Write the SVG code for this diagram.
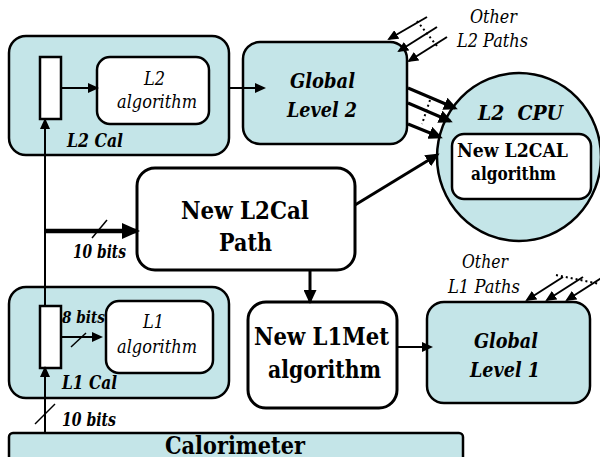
<svg xmlns="http://www.w3.org/2000/svg" width="600" height="457" viewBox="0 0 600 457">
  <defs>
    <style>
      .blk { fill: #c4e5e8; stroke: #000; stroke-width: 2.5; }
      .wht { fill: #fff; stroke: #000; stroke-width: 2.5; }
      .whtb { fill: #fff; stroke: #000; stroke-width: 3; }
      text { font-family: "DejaVu Serif", serif; fill: #000; }
      .it { font-style: italic; font-size: 18px; }
      .bi { font-style: italic; font-weight: bold; font-size: 18px; }
      .bi21 { font-style: italic; font-weight: bold; font-size: 21px; }
      .b24 { font-weight: bold; font-size: 23.5px; }
      .b18 { font-weight: bold; font-size: 18px; }
      .mid { text-anchor: middle; }
      .ln { fill: none; stroke: #000; stroke-width: 2; }
      .lnb { fill: none; stroke: #000; stroke-width: 3; }
      .lnw { fill: none; stroke: #000; stroke-width: 4.5; }
      .tick { fill: none; stroke: #000; stroke-width: 1.5; }
      .dot { fill: none; stroke: #000; stroke-width: 2; stroke-dasharray: 2 3; }
    </style>
    <marker id="ah" markerUnits="userSpaceOnUse" markerWidth="11" markerHeight="10" refX="9" refY="5" orient="auto">
      <path d="M0,0 L11,5 L0,10 z" fill="#000"/>
    </marker>
    <marker id="ahb" markerUnits="userSpaceOnUse" markerWidth="14" markerHeight="13" refX="11" refY="6.5" orient="auto">
      <path d="M0,0 L14,6.5 L0,13 z" fill="#000"/>
    </marker>
    <marker id="ahw" markerUnits="userSpaceOnUse" markerWidth="18" markerHeight="16" refX="15" refY="8" orient="auto">
      <path d="M0,0 L18,8 L0,16 z" fill="#000"/>
    </marker>
  </defs>

  <!-- L2 calorimeter crate -->
  <g id="l2cal">
    <rect class="blk" x="9" y="36" width="220" height="119" rx="17"/>
    <text class="bi" x="67" y="147" textLength="56" lengthAdjust="spacingAndGlyphs">L2 Cal</text>
  </g>
  <g id="l2reg">
    <rect class="wht" x="40" y="57" width="21" height="62"/>
  </g>
  <g id="l2algo">
    <rect class="wht" x="97" y="57" width="112" height="67" rx="13"/>
    <text class="it mid" x="154.5" y="85" textLength="21" lengthAdjust="spacingAndGlyphs">L2</text>
    <text class="it mid" x="157" y="108" textLength="80" lengthAdjust="spacingAndGlyphs">algorithm</text>
  </g>

  <!-- Global Level 2 -->
  <g id="global2">
    <rect class="blk" x="243" y="42" width="164" height="102" rx="17"/>
    <text class="bi21 mid" x="322.5" y="88" textLength="65" lengthAdjust="spacingAndGlyphs">Global</text>
    <text class="bi21 mid" x="322" y="117" textLength="70" lengthAdjust="spacingAndGlyphs">Level 2</text>
  </g>
  <g id="other2">
    <text class="it mid" x="493.5" y="23" textLength="47" lengthAdjust="spacingAndGlyphs">Other</text>
    <text class="it mid" x="492.5" y="47" textLength="71" lengthAdjust="spacingAndGlyphs">L2 Paths</text>
  </g>

  <!-- L2 CPU -->
  <g id="l2cpu">
    <ellipse class="blk" cx="519" cy="157" rx="82" ry="84" stroke-width="3"/>
    <text class="bi21 mid" x="520.5" y="120" textLength="85" lengthAdjust="spacingAndGlyphs" style="white-space:pre">L2  CPU</text>
  </g>
  <g id="l2calalgo">
    <rect class="wht" x="452" y="134" width="139" height="65" rx="12"/>
    <text class="b18 mid" x="512.5" y="157" textLength="111" lengthAdjust="spacingAndGlyphs">New L2CAL</text>
    <text class="b18 mid" x="513.5" y="180" textLength="85" lengthAdjust="spacingAndGlyphs">algorithm</text>
  </g>

  <!-- New L2Cal path -->
  <g id="l2calpath">
    <rect class="whtb" x="137" y="168" width="218" height="102" rx="18"/>
    <text class="b24 mid" x="245" y="219" textLength="128" lengthAdjust="spacingAndGlyphs">New L2Cal</text>
    <text class="b24 mid" x="245.5" y="251" textLength="53" lengthAdjust="spacingAndGlyphs">Path</text>
  </g>

  <!-- L1 calorimeter crate -->
  <g id="l1cal">
    <rect class="blk" x="9" y="287" width="220" height="111" rx="17"/>
    <text class="bi" x="62" y="389" textLength="55" lengthAdjust="spacingAndGlyphs">L1 Cal</text>
  </g>
  <g id="l1reg">
    <rect class="wht" x="40" y="306" width="21" height="62"/>
  </g>
  <g id="l1algo">
    <rect class="wht" x="106" y="301" width="107" height="72" rx="13"/>
    <text class="it mid" x="153.5" y="328" textLength="21" lengthAdjust="spacingAndGlyphs">L1</text>
    <text class="it mid" x="157" y="353" textLength="80" lengthAdjust="spacingAndGlyphs">algorithm</text>
  </g>

  <!-- New L1Met algorithm -->
  <g id="l1met">
    <rect class="whtb" x="248" y="302" width="149" height="106" rx="18"/>
    <text class="b24 mid" x="321.5" y="345" textLength="135" lengthAdjust="spacingAndGlyphs">New L1Met</text>
    <text class="b24 mid" x="324.5" y="378" textLength="113" lengthAdjust="spacingAndGlyphs">algorithm</text>
  </g>

  <!-- Global Level 1 -->
  <g id="global1">
    <rect class="blk" x="427" y="302" width="163" height="101" rx="17"/>
    <text class="bi21 mid" x="506" y="348" textLength="64" lengthAdjust="spacingAndGlyphs">Global</text>
    <text class="bi21 mid" x="505" y="377" textLength="70" lengthAdjust="spacingAndGlyphs">Level 1</text>
  </g>
  <g id="other1">
    <text class="it mid" x="485" y="268" textLength="46" lengthAdjust="spacingAndGlyphs">Other</text>
    <text class="it mid" x="484" y="293" textLength="72" lengthAdjust="spacingAndGlyphs">L1 Paths</text>
  </g>

  <!-- Calorimeter -->
  <g id="calorimeter">
    <rect class="blk" x="9" y="433" width="454" height="40" rx="4"/>
    <text class="b24 mid" x="235" y="454" textLength="140" lengthAdjust="spacingAndGlyphs">Calorimeter</text>
  </g>

  <!-- data paths -->
  <g id="connectors">
    <path class="ln" d="M45,433 L45,368" marker-end="url(#ah)"/>
    <path class="ln" d="M45,306 L45,120" marker-end="url(#ah)"/>
    <path class="lnw" d="M45,231 L137,231" marker-end="url(#ahw)"/>
    <path class="tick" d="M92,238 L107,220"/>
    <text class="bi" x="73" y="258" textLength="53" lengthAdjust="spacingAndGlyphs">10 bits</text>
    <path class="tick" d="M35,424 L55,404"/>
    <text class="bi" x="62" y="426" textLength="54" lengthAdjust="spacingAndGlyphs">10 bits</text>

    <path class="ln" d="M61,88 L97,88" marker-end="url(#ah)"/>
    <path class="ln" d="M229,88 L264,88" marker-end="url(#ah)"/>

    <path class="ln" d="M61,337 L101,337" marker-end="url(#ah)"/>
    <path class="tick" d="M71,347 L86,333"/>
    <text class="bi" x="62" y="323" textLength="43" lengthAdjust="spacingAndGlyphs" style="font-size:17px">8 bits</text>

    <path class="ln" d="M427,17 L389,39" marker-end="url(#ah)"/>
    <path class="ln" d="M437,27 L399,51" marker-end="url(#ah)"/>
    <path class="ln" d="M447,37 L409,61" marker-end="url(#ah)"/>
    <path class="dot" d="M417,21 L437,46"/>

    <path class="lnb" d="M408,88 L455,108" marker-end="url(#ahb)"/>
    <path class="lnb" d="M408,103 L450,121" marker-end="url(#ahb)"/>
    <path class="lnb" d="M408,124 L440,137" marker-end="url(#ahb)"/>
    <path class="dot" d="M430,100 L422,124"/>

    <path class="lnb" d="M355,205 L437,155" marker-end="url(#ahb)"/>
    <path class="lnb" d="M310,270 L310,301" marker-end="url(#ahb)"/>
    <path class="ln" d="M397,347 L431,347" marker-end="url(#ah)"/>

    <path class="ln" d="M563,277 L527,300" marker-end="url(#ah)"/>
    <path class="ln" d="M583,277 L547,300" marker-end="url(#ah)"/>
    <path class="ln" d="M603,277 L567,300" marker-end="url(#ah)"/>
    <path class="dot" d="M556,275 L600,284"/>
  </g>
</svg>
